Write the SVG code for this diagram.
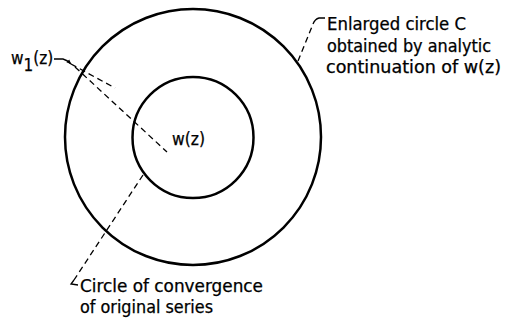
<svg xmlns="http://www.w3.org/2000/svg" width="506" height="323" viewBox="0 0 506 323">
<style>
.c{fill:none;stroke:#000;stroke-width:2.5}
.d{fill:none;stroke:#000;stroke-width:1.3;stroke-dasharray:6 4}
.s{fill:none;stroke:#000;stroke-width:1.3}
text{font-family:"Liberation Sans Narrow","DejaVu Sans Condensed","Liberation Sans",sans-serif;font-size:17px;fill:#000;stroke:#000;stroke-width:0.25}
</style>
<defs>
<marker id="ah" viewBox="0 0 10 10" refX="9" refY="5" markerWidth="5" markerHeight="5" orient="auto" markerUnits="userSpaceOnUse"><path d="M0 1 L10 5 L0 9 Z" fill="#000"/></marker>
</defs>
<rect width="506" height="323" fill="#fff"/>
<g id="outer-circle"><circle class="c" cx="193" cy="137" r="128"/></g>
<g id="inner-circle"><circle class="c" cx="193" cy="137.5" r="60.5"/></g>
<g id="connectors">
<path class="s" d="M54 59 L63 59 Q67 60 71 64" marker-end="url(#ah)"/>
<path class="d" d="M71 64 L115 88"/>
<path class="d" d="M75 67 L167 152"/>
<path class="d" d="M298 61 L313 24"/>
<path class="s" d="M313 24 Q315 19 319 18 L325 18"/>
<path class="d" d="M143 175 L74 280"/>
<path class="s" d="M74 280 L71 284 L78 285"/>
</g>
<g id="label-w1"><text x="11" y="64" font-size="16">w<tspan dy="7">1</tspan><tspan dy="-7">(z)</tspan></text></g>
<g id="label-w"><text x="172" y="145" font-size="16" textLength="33" lengthAdjust="spacingAndGlyphs">w(z)</text></g>
<g id="label-enlarged">
<text x="327" y="30" textLength="139" lengthAdjust="spacingAndGlyphs">Enlarged circle C</text>
<text x="327" y="52" textLength="164" lengthAdjust="spacingAndGlyphs">obtained by analytic</text>
<text x="326" y="73" textLength="175" lengthAdjust="spacingAndGlyphs">continuation of  w(z)</text>
</g>
<g id="label-convergence">
<text x="80" y="292" textLength="183" lengthAdjust="spacingAndGlyphs">Circle of convergence</text>
<text x="80" y="313" textLength="133" lengthAdjust="spacingAndGlyphs">of original series</text>
</g>
</svg>
